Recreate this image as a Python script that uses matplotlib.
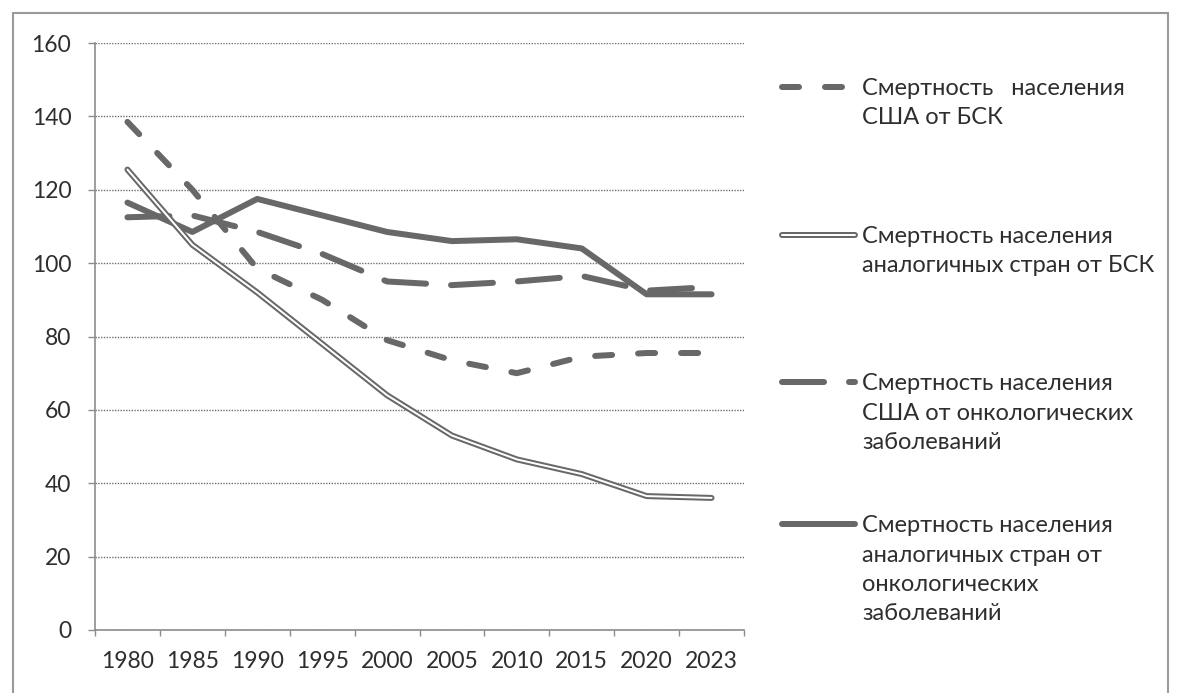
import matplotlib
matplotlib.use('Agg')
import matplotlib.pyplot as plt
import matplotlib.patheffects as pe
from matplotlib.lines import Line2D
from matplotlib.patches import Rectangle

# chart data
years = ['1980', '1985', '1990', '1995', '2000', '2005', '2010', '2015', '2020', '2023']
usa_cvd = [138.5, 120, 98.5, 90, 79, 73.5, 70, 74.5, 75.5, 75.5]
peer_cvd = [125.5, 105, 92, 78, 64, 53, 46.5, 42.5, 36.5, 36]
usa_onc = [112.5, 113, 108.5, 102.5, 95, 94, 95, 96.5, 92.5, 93.5]
peer_onc = [116.5, 108.5, 117.5, 113, 108.5, 106, 106.5, 104, 91.5, 91.5]
y_ticks = [0, 20, 40, 60, 80, 100, 120, 140, 160]

labels = [
    ['Смертность   населения', 'США от БСК'],
    ['Смертность населения', 'аналогичных стран от БСК'],
    ['Смертность населения', 'США от онкологических', 'заболеваний'],
    ['Смертность населения', 'аналогичных стран от', 'онкологических', 'заболеваний'],
]

plt.rcParams['font.family'] = ['Lato', 'DejaVu Sans']
plt.rcParams['lines.scale_dashes'] = False

W, H = 1180, 693
PX = 0.72  # points per pixel at dpi 100
GRAY = '#686868'
TXT = '#2e2e2e'
FS = 17
FS_TICK = 16.5

fig = plt.figure(figsize=(W / 100, H / 100), dpi=100)
ax = fig.add_axes([95 / W, (H - 630) / H, (744 - 95) / W, (630 - 43) / H])

lw = 6 * PX
short = (0, (17 * PX, 26 * PX))
longd = (0, (42 * PX, 25 * PX))

l4, = ax.plot(years, peer_onc, color=GRAY, lw=lw, solid_capstyle='round',
              solid_joinstyle='round', zorder=3)
l3, = ax.plot(years, usa_onc, color=GRAY, lw=lw, linestyle=longd,
              dash_capstyle='round', zorder=4)
l1, = ax.plot(years, usa_cvd, color=GRAY, lw=lw, linestyle=short,
              dash_capstyle='round', zorder=4)
l2, = ax.plot(years, peer_cvd, color='white', lw=2 * PX, zorder=5,
              solid_joinstyle='round', solid_capstyle='round',
              path_effects=[pe.Stroke(linewidth=6 * PX, foreground=GRAY),
                            pe.Normal()])

ax.set_xlim(-0.5, len(years) - 0.5)
ax.set_ylim(0, 160)
ax.set_yticks(y_ticks)
ax.set_xticks(range(len(years)))
ax.set_xticklabels(years)
ax.set_xticks([i - 0.5 for i in range(len(years) + 1)], minor=True)

ax.grid(axis='y', color='#707070', linestyle=(0, (1, 1)), linewidth=1.0)
ax.set_axisbelow(True)
for s in ['top', 'right']:
    ax.spines[s].set_visible(False)
for s in ['left', 'bottom']:
    ax.spines[s].set_color('#8c8c8c')
    ax.spines[s].set_linewidth(1.2)

ax.tick_params(axis='y', length=7 * PX, width=1, color='#8c8c8c', pad=12,
               labelsize=FS_TICK, labelcolor=TXT)
ax.tick_params(axis='x', which='major', length=0, pad=15, labelsize=FS_TICK,
               labelcolor=TXT)
ax.tick_params(axis='x', which='minor', length=6 * PX, width=1,
               color='#8c8c8c')

# legend, placed like the spread-out one in the scan
entry_y = [87, 235, 382, 524]
line_gap = 29.5
hx0, hx1, tx = 782, 855, 862
handles = [l1, l2, l3, l4]
for h, ey, lines in zip(handles, entry_y, labels):
    yy = (H - ey) / H
    seg = Line2D([hx0 / W, hx1 / W], [yy, yy])
    seg.update_from(h)
    seg.set_transform(fig.transFigure)
    seg.set_clip_on(False)
    fig.add_artist(seg)
    for k, t in enumerate(lines):
        fig.text(tx / W, (H - ey - k * line_gap - 8) / H, t, fontsize=FS,
                 color=TXT, ha='left', va='baseline')

# outer chart frame
fig.add_artist(Rectangle((13 / W, -10 / H), (1168 - 13) / W, (H - 13 + 10) / H,
                         transform=fig.transFigure, fill=False,
                         edgecolor='#9a9a9a', linewidth=1.5))

fig.savefig('out.png', dpi=100, facecolor='white')
plt.close(fig)
